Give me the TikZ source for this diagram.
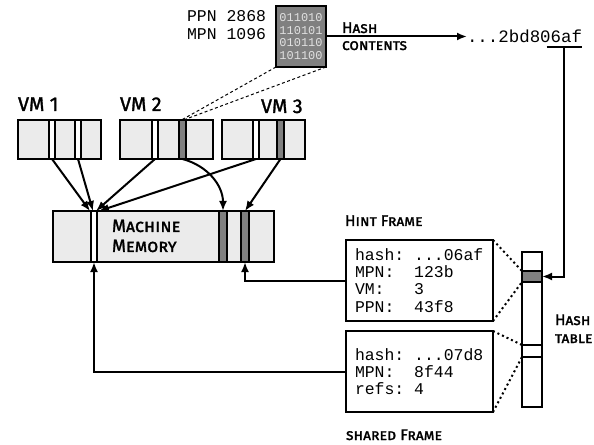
\documentclass[tikz,border=0pt]{standalone}
\usepackage{fontspec}
\setmonofont{Liberation Mono}
\newfontfamily\labfont{Fira Sans}[FakeBold=1.5]
\usetikzlibrary{arrows.meta,calc}
\definecolor{lightfill}{RGB}{235,235,235}
\definecolor{darkfill}{RGB}{128,128,128}
\definecolor{bitcol}{RGB}{225,225,225}
\newcommand\blank{\hphantom{0}}
\tikzset{
 every node/.style={inner sep=0pt, outer sep=0pt},
 membox/.style={draw, line width=2bp, fill=lightfill, anchor=north west},
 wstripe/.style={draw, line width=1.8bp, fill=white, anchor=north west, minimum width=6bp},
 dstripe/.style={draw, line width=1.8bp, fill=darkfill, anchor=north west, minimum width=7bp},
 arr/.style={line width=2bp, -{Latex[length=10bp,width=8bp]}},
 vmlabel/.style={font=\labfont\fontsize{20}{22}\selectfont, anchor=base west},
 sclabel/.style={font=\labfont\fontsize{15.5}{17}\selectfont\scshape, anchor=base west},
 monotext/.style={font=\ttfamily\fontsize{16.5}{17.3}\selectfont},
 infobox/.style={draw, line width=2bp, fill=white, anchor=north west, align=left, text width=129bp, inner xsep=9bp, minimum height=81bp, monotext},
 dashedlink/.style={line width=1bp, dash pattern=on 3bp off 2.5bp},
 dottedlink/.style={line width=2bp, dash pattern=on 2bp off 3bp},
}
\begin{document}
\begin{tikzpicture}[x=1bp, y=-1bp]
\useasboundingbox (0,0) rectangle (594,445);
% VM boxes
\node[membox, minimum width=83bp, minimum height=39bp] (vm1) at (18,120) {};
\node[wstripe, minimum height=39bp] (v1a) at (49,120) {};
\node[wstripe, minimum height=39bp] (v1b) at (75,120) {};
\node[membox, minimum width=93bp, minimum height=39bp] (vm2) at (120,120) {};
\node[wstripe, minimum height=39bp] (v2w) at (152,120) {};
\node[dstripe, minimum height=39bp] (v2d) at (179,120) {};
\node[membox, minimum width=83bp, minimum height=39bp] (vm3) at (222,120) {};
\node[wstripe, minimum height=39bp] (v3w) at (253,120) {};
\node[dstripe, minimum height=39bp] (v3d) at (277,120) {};
\node[vmlabel] (l1) at (18,111) {VM 1};
\node[vmlabel] (l2) at (120,111) {VM 2};
\node[vmlabel] (l3) at (261,113) {VM 3};
% machine memory
\node[membox, minimum width=221bp, minimum height=51bp] (mm) at (53,211) {};
\node[wstripe, minimum height=51bp] (mw) at (91,211) {};
\node[dstripe, minimum width=8bp, minimum height=51bp] (md1) at (219,211) {};
\node[dstripe, minimum width=8bp, minimum height=51bp] (md2) at (241,211) {};
\node[sclabel, font=\labfont\fontsize{18}{20}\selectfont\scshape] (mml1) at (112,232) {Machine};
\node[sclabel, font=\labfont\fontsize{18}{20}\selectfont\scshape] (mml2) at (112,252) {Memory};
% page contents
\node[draw, line width=2bp, fill=darkfill, minimum width=50bp, minimum height=61bp, anchor=north west] (cbox) at (276,6) {};
\node[font=\ttfamily\fontsize{12}{12.7}\selectfont, text=bitcol, align=left] (bits) at (cbox.center) {011010\\110101\\010110\\101100};
\node[monotext, align=right, anchor=east] (ppn) at (266,25) {PPN\blank 2868\\MPN\blank 1096};
\node[sclabel] (hashl) at (342,33) {Hash};
\node[sclabel] (contl) at (342,50) {contents};
% hash value
\node[font=\ttfamily\fontsize{17.5}{19}\selectfont, anchor=base west] (hv1) at (467,43) {...2bd80};
\node[font=\ttfamily\fontsize{17.5}{19}\selectfont, anchor=base west] (hv2) at (hv1.base east) {6af};
\coordinate (ulA) at ([xshift=-4bp, yshift=-4bp]hv2.base west);
\coordinate (ulB) at ([yshift=-4bp]hv2.base east);
\coordinate (ulM) at ($(ulA)!0.5!(ulB)$);
% hash table
\node[draw, line width=2bp, fill=white, minimum width=20bp, minimum height=155bp, anchor=north west] (htab) at (522,252) {};
\node[draw, line width=1.8bp, fill=darkfill, minimum width=20bp, minimum height=11bp, anchor=north west] (hdark) at (522,271) {};
\node[draw, line width=1.8bp, fill=white, minimum width=20bp, minimum height=12bp, anchor=north west] (hwhite) at (522,345) {};
\node[sclabel] (htl1) at (555,325) {Hash};
\node[sclabel] (htl2) at (555,343) {table};
% info boxes
\node[infobox] (hint) at (346,240) {hash:\blank...06af\\MPN:\blank\blank 123b\\VM:\blank\blank\blank 3\\PPN:\blank\blank 43f8};
\node[infobox] (shared) at (346,331) {hash:\blank...07d8\\MPN:\blank\blank 8f44\\refs:\blank 4};
\node[sclabel] (hintl) at (345,226) {Hint Frame};
\node[sclabel] (sharedl) at (346,440) {shared Frame};
% connectors
\draw[dashedlink] (cbox.south west) -- ([xshift=-1bp]v2d.north);
\draw[dashedlink] (cbox.south east) -- ([xshift=1bp]v2d.north);
\draw[arr] (cbox.east) -- (hv1.west |- cbox.east);
\draw[line width=2bp] (ulA) -- (ulB);
\draw[arr] (ulM) |- (hdark.east);
\draw[arr] (v1a.south) -- ([xshift=-4bp]mw.north);
\draw[arr] (v1b.south) -- ([xshift=-1bp]mw.north);
\draw[arr] (v2w.south) -- ([xshift=2bp]mw.north);
\draw[arr] (v3w.south) -- ([xshift=5bp]mw.north);
\draw[arr] (v2d.south) to[out=-15, in=90] (md1.north);
\draw[arr] (v3d.south) -- (md2.north);
\draw[arr] (hint.west) -| (md2.south);
\draw[arr] (shared.west) -| (mw.south);
\draw[dottedlink] (hint.north east) -- (hdark.north west);
\draw[dottedlink] (hint.south east) -- (hdark.south west);
\draw[dottedlink] (shared.north east) -- (hwhite.north west);
\draw[dottedlink] (shared.south east) -- (hwhite.south west);
\end{tikzpicture}
\end{document}
